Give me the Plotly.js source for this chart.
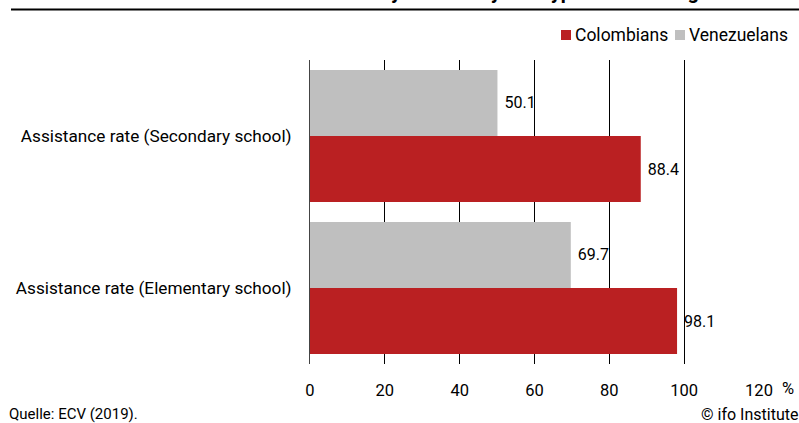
<!DOCTYPE html>
<html>
<head>
<meta charset="utf-8">
<script src="https://cdn.plot.ly/plotly-3.0.1.min.js"></script>
<style>html,body{margin:0;padding:0;background:#fff;}#chart{width:799px;height:423px;}</style>
</head>
<body>
<div id="chart"></div>
<script>
const categories = ["Assistance rate (Elementary school)", "Assistance rate (Secondary school)"];
const colombians = [98.1, 88.4];
const venezuelans = [69.7, 50.1];
const seriesNames = ["Colombians", "Venezuelans"];
const seriesColors = ["#BA2022", "#BFBFBF"];
const xTicks = [0, 20, 40, 60, 80, 100, 120];
const titleText = "School assistance rates by nationality and type of schooling";
const sourceText = "Quelle: ECV (2019).";
const creditText = "© ifo Institute";

const FONT = "Roboto, 'Open Sans', sans-serif";
const L = 310, R = 40, T = 60, B = 59, W = 799, H = 423;
const pw = W - L - R, ph = H - T - B;
const px2x = p => (p - L) / pw;
const py2y = p => (H - B - p) / ph;

const traces = [
  {type: 'bar', orientation: 'h', name: seriesNames[0], y: categories, x: colombians,
   marker: {color: seriesColors[0]}, text: colombians.map(v => '\u00a0' + v.toFixed(1)), textposition: 'outside',
   textfont: {family: FONT, size: 16, color: '#000'}, cliponaxis: false, hoverinfo: 'x'},
  {type: 'bar', orientation: 'h', name: seriesNames[1], y: categories, x: venezuelans,
   marker: {color: seriesColors[1]}, text: venezuelans.map(v => '\u00a0' + v.toFixed(1)), textposition: 'outside',
   textfont: {family: FONT, size: 16, color: '#000'}, cliponaxis: false, hoverinfo: 'x'}
];

// custom legend (square + label) matching the reference's compact legend
const legendItems = [
  {sq: 561, tx: 574},
  {sq: 675, tx: 688}
];
const legendShapes = legendItems.map((it, i) => ({
  type: 'rect', xref: 'paper', yref: 'paper', x0: px2x(it.sq), x1: px2x(it.sq + 10),
  y0: py2y(40), y1: py2y(30), fillcolor: seriesColors[i], line: {width: 0}
}));
const legendLabels = legendItems.map((it, i) => ({
  text: seriesNames[i], xref: 'paper', yref: 'paper', x: px2x(it.tx - 1), y: py2y(35),
  xanchor: 'left', yanchor: 'middle', showarrow: false, font: {family: FONT, size: 17.5, color: '#000'}
}));

const layout = {
  width: W, height: H,
  margin: {l: L, r: R, t: T, b: B, pad: 0, autoexpand: false},
  paper_bgcolor: '#fff', plot_bgcolor: '#fff',
  font: {family: FONT, size: 16, color: '#000'},
  barmode: 'group', bargap: 0.13, bargroupgap: 0,
  showlegend: false,
  xaxis: {range: [0, 120], tickvals: xTicks, ticktext: xTicks.map(String), showgrid: true,
          gridcolor: '#000', gridwidth: 1, zeroline: false, showline: false, ticks: '',
          ticklabelstandoff: 14, tickfont: {family: FONT, size: 16.5, color: '#000'}, fixedrange: true},
  yaxis: {type: 'category', categoryorder: 'array', categoryarray: categories, range: [-0.5, 1.5],
          showgrid: false, zeroline: false, showline: true, linecolor: '#444', linewidth: 1,
          ticks: '', ticklabelstandoff: 14, tickfont: {family: FONT, size: 17.2, color: '#000'}, fixedrange: true},
  shapes: [
    {type: 'line', xref: 'paper', yref: 'paper', x0: px2x(11), x1: px2x(799), y0: py2y(9.5), y1: py2y(9.5),
     line: {color: '#000', width: 2}}
  ].concat(legendShapes),
  annotations: [
    {text: '<b>' + titleText + '</b>', xref: 'paper', yref: 'paper', x: px2x(430), y: py2y(6),
     xanchor: 'center', yanchor: 'bottom', showarrow: false, font: {family: FONT, size: 20, color: '#000'}},
    {text: '%', xref: 'paper', yref: 'paper', x: px2x(780), y: py2y(388), xanchor: 'left', yanchor: 'middle',
     showarrow: false, font: {family: FONT, size: 16.5, color: '#000'}},
    {text: sourceText, xref: 'paper', yref: 'paper', x: px2x(7), y: py2y(414), xanchor: 'left', yanchor: 'middle',
     showarrow: false, font: {family: FONT, size: 15, color: '#000'}},
    {text: creditText, xref: 'paper', yref: 'paper', x: px2x(800), y: py2y(414), xanchor: 'right', yanchor: 'middle',
     showarrow: false, font: {family: FONT, size: 16, color: '#000'}}
  ].concat(legendLabels)
};

Plotly.newPlot('chart', traces, layout, {displayModeBar: false, staticPlot: true});
</script>
</body>
</html>
